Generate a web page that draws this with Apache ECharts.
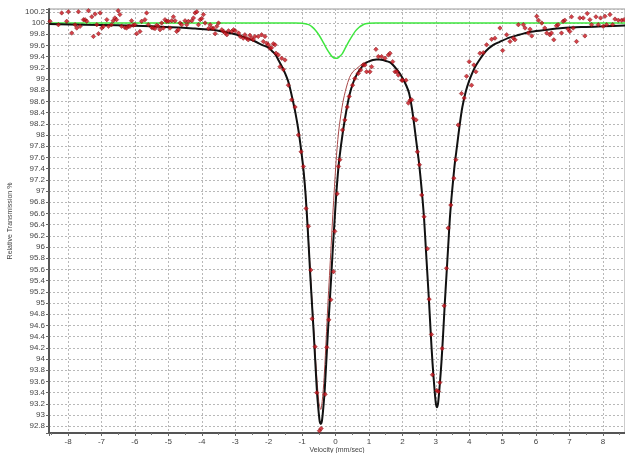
<!DOCTYPE html>
<html>
<head>
<meta charset="utf-8">
<script src="https://cdn.jsdelivr.net/npm/echarts@6.0.0/dist/echarts.min.js"></script>
<style>
  html, body { margin: 0; padding: 0; background: #fff; }
  #chart { width: 625px; height: 453px; }
</style>
</head>
<body>
<div id="chart"></div>
<script>
// measured points: [velocity mm/s, transmission %]
const measured = [
  [-8.54,100.03],[-8.29,99.97],[-8.19,100.18],[-8.04,100.03],[-7.99,100.20],[-7.89,99.82],[-7.79,99.97],[-7.74,99.91],
  [-7.69,100.20],[-7.64,99.94],[-7.54,100.06],[-7.49,100.06],[-7.44,100.03],[-7.39,100.22],[-7.29,100.11],[-7.24,99.76],
  [-7.19,100.16],[-7.14,99.97],[-7.09,99.81],[-7.04,100.18],[-6.99,99.91],[-6.94,99.94],[-6.84,100.06],[-6.79,99.94],
  [-6.70,99.97],[-6.65,100.04],[-6.60,100.09],[-6.55,100.06],[-6.50,100.22],[-6.45,100.15],[-6.40,99.94],[-6.30,99.92],
  [-6.25,99.91],[-6.20,99.94],[-6.15,99.94],[-6.10,100.04],[-6.05,99.96],[-6.00,99.97],[-5.95,99.81],[-5.85,99.85],
  [-5.80,100.03],[-5.70,100.06],[-5.65,100.18],[-5.60,99.97],[-5.50,99.92],[-5.45,99.91],[-5.40,99.90],[-5.35,99.96],
  [-5.30,99.94],[-5.25,99.88],[-5.20,100.00],[-5.15,99.91],[-5.10,100.06],[-5.05,100.03],[-5.00,100.03],[-4.95,99.91],
  [-4.90,100.04],[-4.85,100.11],[-4.80,100.04],[-4.75,99.85],[-4.70,99.88],[-4.65,100.00],[-4.60,99.97],[-4.50,100.04],
  [-4.45,99.97],[-4.40,100.03],[-4.30,100.04],[-4.25,100.09],[-4.20,100.18],[-4.15,100.20],[-4.10,99.97],[-4.05,100.06],
  [-4.00,100.08],[-3.95,100.15],[-3.90,100.00],[-3.80,99.90],[-3.75,99.97],[-3.70,99.91],[-3.65,99.90],[-3.60,99.81],
  [-3.55,99.94],[-3.50,100.00],[-3.40,99.88],[-3.35,99.85],[-3.30,99.82],[-3.25,99.79],[-3.20,99.86],[-3.10,99.85],
  [-3.05,99.88],[-3.00,99.86],[-2.90,99.82],[-2.85,99.76],[-2.76,99.73],[-2.71,99.79],[-2.66,99.73],[-2.61,99.70],
  [-2.56,99.78],[-2.51,99.73],[-2.46,99.70],[-2.41,99.76],[-2.31,99.76],[-2.21,99.79],[-2.16,99.67],[-2.11,99.76],
  [-2.06,99.64],[-2.01,99.61],[-1.96,99.55],[-1.91,99.56],[-1.86,99.63],[-1.81,99.61],[-1.78,99.46],[-1.71,99.43],
  [-1.66,99.22],[-1.61,99.37],[-1.56,99.17],[-1.51,99.34],[-1.41,98.89],[-1.31,98.63],[-1.21,98.50],[-1.11,98.00],
  [-1.03,97.70],[-0.96,97.44],[-0.88,96.69],[-0.81,96.37],[-0.74,95.59],[-0.70,94.72],[-0.61,94.22],[-0.56,93.40],
  [-0.48,92.72],[-0.43,92.76],[-0.31,93.37],[-0.26,94.21],[-0.20,94.70],[-0.14,95.06],[-0.06,95.56],[-0.02,96.28],
  [0.05,96.95],[0.09,97.44],[0.13,97.56],[0.21,98.09],[0.28,98.27],[0.35,98.50],[0.41,98.69],[0.51,98.89],
  [0.58,99.01],[0.68,99.10],[0.75,99.16],[0.83,99.25],[0.88,99.25],[0.93,99.13],[1.03,99.13],[1.08,99.22],
  [1.21,99.53],[1.28,99.40],[1.38,99.40],[1.48,99.37],[1.58,99.43],[1.63,99.46],[1.71,99.31],[1.78,99.13],
  [1.83,99.13],[1.88,99.07],[1.98,98.98],[2.01,98.98],[2.11,98.98],[2.18,98.57],[2.23,98.62],[2.28,98.63],
  [2.33,98.30],[2.41,98.27],[2.45,97.70],[2.51,97.47],[2.58,96.93],[2.65,96.54],[2.75,95.97],[2.80,95.07],
  [2.87,94.44],[2.90,93.72],[3.03,93.44],[3.08,93.42],[3.12,93.58],[3.19,94.19],[3.25,94.95],[3.32,95.62],
  [3.37,96.34],[3.45,96.75],[3.54,97.23],[3.60,97.56],[3.67,98.18],[3.77,98.74],[3.85,98.66],[3.92,99.05],
  [4.00,99.31],[4.07,98.89],[4.14,99.25],[4.20,99.13],[4.32,99.46],[4.42,99.47],[4.52,99.61],[4.67,99.71],
  [4.77,99.73],[4.92,99.91],[5.00,99.51],[5.12,99.79],[5.22,99.67],[5.32,99.73],[5.37,99.70],[5.47,99.97],
  [5.62,99.97],[5.67,99.91],[5.77,99.82],[5.82,99.89],[5.87,99.77],[6.02,100.12],[6.07,100.05],[6.17,100.00],
  [6.26,99.91],[6.32,99.82],[6.41,99.79],[6.46,99.82],[6.53,99.70],[6.61,99.95],[6.66,99.97],[6.76,99.82],
  [6.81,100.03],[6.86,100.05],[6.96,99.89],[7.01,99.85],[7.06,100.11],[7.11,99.91],[7.21,99.67],[7.31,100.09],
  [7.41,100.09],[7.46,99.77],[7.53,100.17],[7.61,100.06],[7.66,99.97],[7.79,100.11],[7.86,99.97],[7.93,100.09],
  [8.01,99.94],[8.06,100.12],[8.11,99.97],[8.21,100.15],[8.29,99.97],[8.36,100.07],[8.46,100.05],[8.56,100.05],
  [8.63,100.06]
];

// total fit (black)
const fitV = [-8.57,-7.5,-6.5,-5.5,-4.7,-4.2,-3.7,-3.3,-3.0,-2.7,-2.4,-2.2,-2.0,-1.9,-1.8,-1.7,-1.6,-1.5,-1.4,-1.3,-1.2,-1.1,-1.0,
  -0.95,-0.9,-0.85,-0.8,-0.75,-0.7,-0.65,-0.6,-0.55,-0.5,-0.47,-0.44,-0.41,-0.38,-0.33,-0.28,-0.23,-0.18,-0.13,-0.08,-0.03,
  0.02,0.07,0.12,0.22,0.32,0.42,0.52,0.62,0.72,0.82,0.92,1.02,1.12,1.22,1.32,1.42,1.52,1.62,1.72,1.82,1.92,2.02,2.12,2.2,
  2.28,2.355,2.435,2.5,2.55,2.6,2.65,2.7,2.75,2.8,2.85,2.9,2.95,3.0,3.035,3.07,3.12,3.17,3.22,3.27,3.32,3.37,3.42,3.47,
  3.52,3.57,3.635,3.715,3.795,3.9,4.0,4.1,4.2,4.35,4.5,4.7,4.9,5.2,5.5,5.8,6.2,6.8,7.5,8.0,8.72];
const fitT = [99.98,99.97,99.96,99.94,99.92,99.90,99.88,99.84,99.80,99.74,99.67,99.61,99.56,99.50,99.44,99.33,99.22,99.09,98.93,98.68,98.40,98.05,97.60,
  97.33,96.98,96.52,96.00,95.45,94.95,94.45,93.90,93.38,93.03,92.88,92.84,92.88,93.03,93.38,93.90,94.45,94.95,95.45,95.97,96.45,
  96.92,97.30,97.60,98.05,98.42,98.72,98.92,99.06,99.16,99.24,99.29,99.32,99.34,99.35,99.35,99.34,99.32,99.30,99.25,99.18,99.10,99.00,98.88,98.75,
  98.50,98.18,97.80,97.50,97.20,96.88,96.50,96.00,95.50,95.00,94.45,93.95,93.55,93.22,93.14,93.22,93.55,93.95,94.45,95.00,95.50,96.00,96.50,96.88,
  97.20,97.50,97.80,98.18,98.50,98.78,98.97,99.12,99.24,99.38,99.50,99.60,99.66,99.74,99.79,99.84,99.87,99.91,99.93,99.94,99.955];

// doublet sub-spectrum (thin red), only where it departs from the total
const doubletV = [-1.0,-0.9,-0.8,-0.7,-0.6,-0.5,-0.44,-0.38,-0.33,-0.28,-0.23,-0.18,-0.13,-0.08,-0.03,0.02,0.07,0.12,0.22,0.32,0.42,0.52,0.62,0.72,0.82,0.92,1.02,1.12];
const doubletT = [97.60,96.99,96.03,95.02,94.03,93.24,93.10,93.36,93.77,94.35,94.95,95.49,96.03,96.58,97.08,97.55,97.92,98.19,98.58,98.84,99.03,99.13,99.18,99.23,99.28,99.305,99.32,99.34];

// singlet sub-spectrum (green)
const singletV = [-8.57,-6,-4,-3,-2,-1.5,-1.2,-1.0,-0.9,-0.8,-0.7,-0.6,-0.5,-0.4,-0.3,-0.2,-0.1,0.0,0.05,0.1,0.2,0.3,0.4,0.5,0.6,0.7,0.8,0.9,1.0,1.2,1.5,2,3,4,6,8.72];
const singletT = [100.0,100.0,100.0,100.0,100.0,100.0,100.0,99.995,99.985,99.97,99.93,99.87,99.79,99.69,99.58,99.48,99.40,99.37,99.37,99.39,99.45,99.56,99.67,99.77,99.86,99.92,99.96,99.985,99.995,100.0,100.0,100.0,100.0,100.0,100.0,100.0];

function pairs (xs, ys) {
  let out = [];
  for (let i = 0; i < xs.length; i++) {
    out.push([xs[i], ys[i]]);
  }
  return out;
}

const labelFont = { fontSize: 8, color: '#444', fontFamily: 'Liberation Sans' };

let chart = echarts.init(document.getElementById('chart'), null, { renderer: 'canvas' });
chart.setOption({
  animation: false,
  grid: {
    left: 49, right: 0, top: 9, bottom: 20,
    outerBoundsMode: 'none',
    show: true, borderColor: '#999', borderWidth: 1
  },
  xAxis: {
    type: 'value',
    min: -8.57,
    max: 8.66,
    splitNumber: 17,
    name: 'Velocity (mm/sec)',
    nameLocation: 'middle',
    nameGap: 14,
    nameMoveOverlap: false,
    nameTextStyle: { fontSize: 7, color: '#444', fontFamily: 'Liberation Sans' },
    axisLine: { onZero: false, lineStyle: { color: '#555', width: 2 } },
    axisTick: { length: 3, lineStyle: { color: '#666' } },
    minorTick: { show: true, splitNumber: 2, length: 2, lineStyle: { color: '#777' } },
    splitLine: { show: true, lineStyle: { color: '#b8b8b8', type: [2, 2] } },
    axisLabel: Object.assign({
      margin: 5,
      formatter: function (v) {
        return Math.abs(v - Math.round(v)) < 1e-6 ? String(Math.round(v)) : '';
      }
    }, labelFont)
  },
  yAxis: {
    type: 'value',
    min: 92.68,
    max: 100.25,
    splitNumber: 38,
    name: 'Relative Transmission %',
    nameLocation: 'middle',
    nameGap: 35,
    nameMoveOverlap: false,
    nameTextStyle: { fontSize: 7, color: '#444', fontFamily: 'Liberation Sans' },
    axisLine: { onZero: false, lineStyle: { color: '#555', width: 2 } },
    axisTick: { length: 3, lineStyle: { color: '#666' } },
    splitLine: { show: true, lineStyle: { color: '#b8b8b8', type: [2, 2] } },
    axisLabel: Object.assign({
      margin: 4,
      formatter: function (v) {
        let k = v * 5;
        return Math.abs(k - Math.round(k)) < 1e-6 ? String(Math.round(k) / 5) : '';
      }
    }, labelFont)
  },
  series: [
    {
      name: 'singlet',
      type: 'line',
      data: pairs(singletV, singletT),
      showSymbol: false,
      smooth: 0.3,
      lineStyle: { color: '#3fe63f', width: 1.5 },
      z: 2
    },
    {
      name: 'doublet',
      type: 'line',
      data: pairs(doubletV, doubletT),
      showSymbol: false,
      smooth: 0.3,
      lineStyle: { color: '#a84848', width: 1 },
      z: 3
    },
    {
      name: 'fit',
      type: 'line',
      data: pairs(fitV, fitT),
      showSymbol: false,
      smooth: 0.3,
      lineStyle: { color: '#111', width: 2 },
      z: 4
    },
    {
      name: 'data',
      type: 'scatter',
      data: measured,
      symbol: 'diamond',
      symbolSize: 4.5,
      itemStyle: { color: '#c8141e', borderColor: '#700000', borderWidth: 0.5 },
      z: 5
    }
  ]
});
</script>
</body>
</html>
